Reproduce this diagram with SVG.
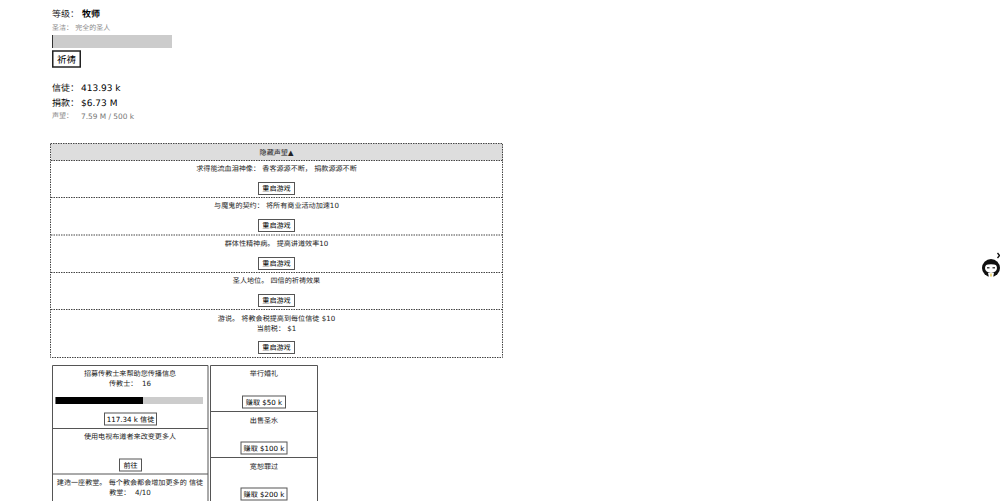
<svg xmlns="http://www.w3.org/2000/svg" width="1000" height="501" viewBox="0 0 1000 501">
<style>
text{font-family:"DejaVu Sans","Noto Sans CJK SC",sans-serif;fill:#000;white-space:pre;text-rendering:geometricPrecision}
.s{font-size:7.100px;text-anchor:middle;fill:#222}
.b{font-size:7.100px;text-anchor:middle;fill:#000}
.btn{fill:#fff;stroke:#555;stroke-width:1}
.d{fill:none;stroke:#444;stroke-width:1;stroke-dasharray:1.500 1}
.box{fill:#fff;stroke:#555;stroke-width:1}
.g{fill:#8a8a8a;font-size:7px}
.gn{fill:#777;font-size:7.400px}
.m{font-size:9px}
</style>
<rect width="1000" height="501" fill="#fff"/>
<g id="stats">
<text class="m" x="52" y="17" style="fill:#222">等级：</text><text x="82" y="17" style="font-size:9px;font-weight:bold">牧师</text>
<text class="g" x="52" y="30">圣洁： 完全的圣人</text>
<rect x="52" y="35" width="120" height="13" fill="#ccc"/><rect x="52" y="35" width="1" height="13" fill="#333"/>
<g id="pray"><rect x="52.750" y="51" width="27.500" height="16" fill="#fff" stroke="#222" stroke-width="1.500"/><text x="66.500" y="62.500" text-anchor="middle" style="font-size:9.500px">祈祷</text></g>
<text class="m" x="52" y="91">信徒：</text><text class="m" x="81" y="91">413.93 k</text>
<text class="m" x="52" y="106">捐款：</text><text class="m" x="81" y="106">$6.73 M</text>
<text class="g" x="52" y="118">声望：</text><text class="gn" x="81" y="118.500">7.59 M / 500 k</text>
</g>
<g id="prestige">
<rect x="51" y="143.500" width="452" height="17" fill="#ddd"/>
<text class="s" x="276.500" y="154.500">隐藏声望▲</text>
<rect class="d" x="50.500" y="143.500" width="452" height="214"/>
<path class="d" d="M51 160.500H503M51 197.500H503M51 235H503M51 272.500H503M51 309.500H503"/>
<text class="s" x="276.500" y="171">求得能流血泪神像： 香客源源不断， 捐款源源不断</text>
<rect class="btn" x="258.500" y="182.500" width="36" height="12"/><text class="b" x="276.500" y="191">重启游戏</text>
<text class="s" x="276.500" y="208">与魔鬼的契约： 将所有商业活动加速10</text>
<rect class="btn" x="258.500" y="219.500" width="36" height="12"/><text class="b" x="276.500" y="228">重启游戏</text>
<text class="s" x="276.500" y="246">群体性精神病。 提高讲道效率10</text>
<rect class="btn" x="258.500" y="257.500" width="36" height="12"/><text class="b" x="276.500" y="266">重启游戏</text>
<text class="s" x="276.500" y="283">圣人地位。 四倍的祈祷效果</text>
<rect class="btn" x="258.500" y="294.500" width="36" height="12"/><text class="b" x="276.500" y="303">重启游戏</text>
<text class="s" x="276.500" y="321">游说。 将教会税提高到每位信徒 $10</text>
<text class="s" x="276.500" y="331">当前税： $1</text>
<rect class="btn" x="258.500" y="341.500" width="36" height="12"/><text class="b" x="276.500" y="350">重启游戏</text>
</g>
<g id="upgrades">
<path class="box" d="M52.500 501V365.500H208V501"/>
<path class="box" d="M52.500 428.500H208M52.500 474H208" fill="none"/>
<text class="s" x="130" y="376">招募传教士来帮助您传播信息</text>
<text class="s" x="130" y="386">传教士：  16</text>
<rect x="55.500" y="397" width="147.500" height="7" fill="#ccc"/><rect x="55.500" y="397" width="87.500" height="7" fill="#000"/>
<rect class="btn" x="104.500" y="413" width="52" height="12"/><text class="b" x="130.500" y="421.500">117.34 k 信徒</text>
<text class="s" x="130" y="439">使用电视布道者来改变更多人</text>
<rect class="btn" x="119.500" y="459" width="22" height="12"/><text class="b" x="130.500" y="467.500">前往</text>
<text class="s" x="130" y="485">建造一座教堂。 每个教会都会增加更多的 信徒</text>
<text class="s" x="130" y="495">教堂：  4/10</text>
</g>
<g id="earn">
<path class="box" d="M210.500 501V365.500H317.500V501"/>
<path class="box" d="M210.500 411.500H317.500M210.500 457.500H317.500" fill="none"/>
<text class="s" x="264" y="376">举行婚礼</text>
<rect class="btn" x="242.500" y="396" width="43" height="12"/><text class="b" x="264" y="404.500">赚取 $50 k</text>
<text class="s" x="264" y="423">出售圣水</text>
<rect class="btn" x="241" y="442" width="46" height="12"/><text class="b" x="264" y="450.500">赚取 $100 k</text>
<text class="s" x="264" y="469">宽恕罪过</text>
<rect class="btn" x="241" y="488" width="46" height="12"/><text class="b" x="264" y="496.500">赚取 $200 k</text>
</g>
<g id="badge">
<circle cx="991" cy="268" r="9" fill="#111"/>
<ellipse cx="991" cy="268" rx="6" ry="5" fill="#fff"/>
<path d="M985 265l1.500-4 3 2h3l3-2 1.500 4q-6-1.500-12 0z" fill="#111"/>
<path d="M987 267h2.500v1.500h-2.500zM992.500 267h2.500v1.500h-2.500z" fill="#444"/>
<path d="M988 273h6l-1 4.500h-4z" fill="#fff"/>
<path d="M990.300 273.500h1.400l.3 3h-2z" fill="#e8d070"/>
<path d="M997.500 253l2 2.500-2 2.500" fill="none" stroke="#111" stroke-width="1.300"/>
</g>
</svg>
